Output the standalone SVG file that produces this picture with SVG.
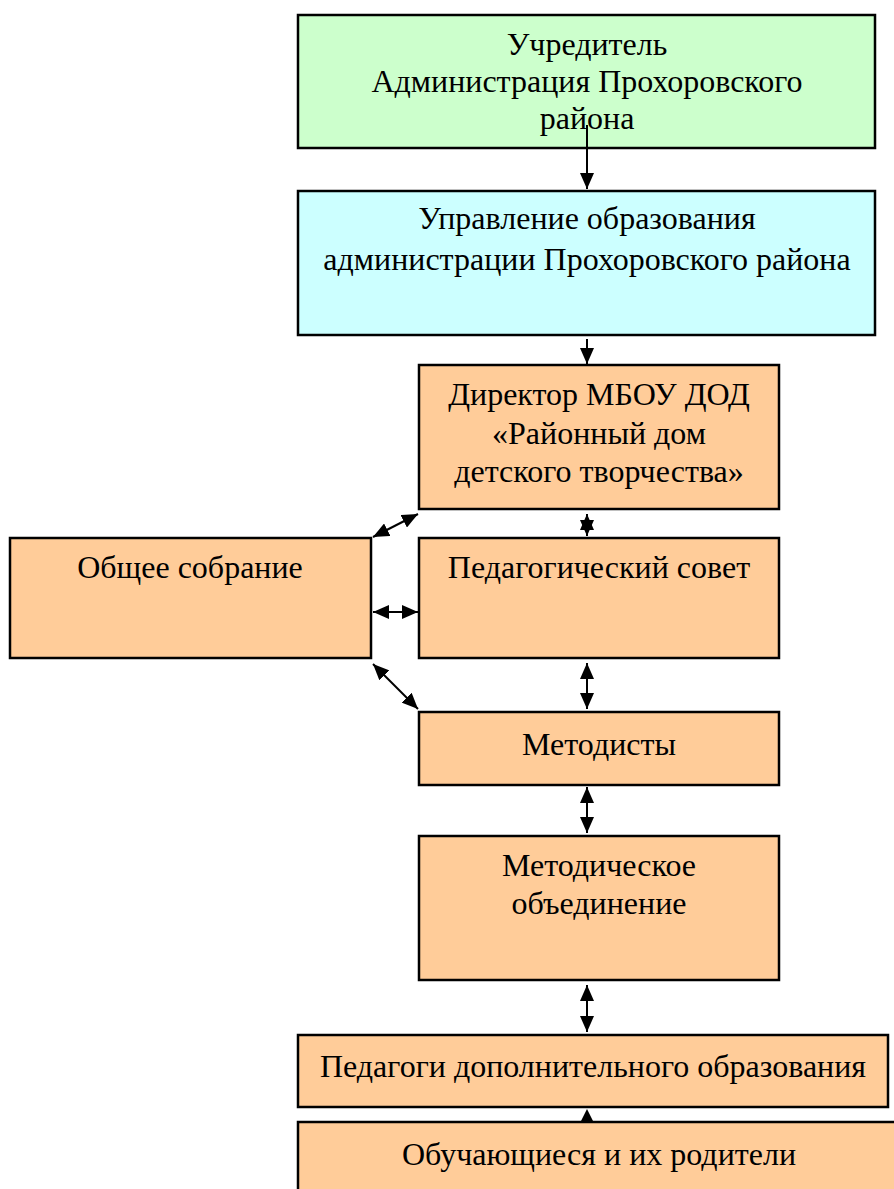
<svg xmlns="http://www.w3.org/2000/svg" width="894" height="1189" viewBox="0 0 894 1189">
<defs>
<style>
.box{stroke:#000;stroke-width:2.5}
.g{fill:#ccffcc}.c{fill:#ccffff}.o{fill:#ffcc99}
text{font-family:"Liberation Serif","Times New Roman",serif;font-size:32px;fill:#000;text-anchor:middle}
.ln{stroke:#000;stroke-width:2;fill:none}
</style>
<marker id="ae" viewBox="0 0 16 14" refX="16" refY="7" markerWidth="16" markerHeight="14" markerUnits="userSpaceOnUse" orient="auto-start-reverse">
<path d="M0,0 L16,7 L0,14 Z" fill="#000"/>
</marker>
</defs>
<g id="n1"><rect class="box g" x="298" y="15" width="577" height="133"/>
<text x="587" y="55">Учредитель</text><text x="587" y="92">Администрация Прохоровского</text><text x="587" y="129">района</text></g>
<g id="n2"><rect class="box c" x="298" y="191" width="577" height="144"/>
<text x="587" y="229">Управление образования</text><text x="587" y="270">администрации Прохоровского района</text></g>
<g id="n3"><rect class="box o" x="419" y="365" width="360" height="144"/>
<text x="599" y="405">Директор МБОУ ДОД</text><text x="599" y="444">«Районный дом</text><text x="599" y="482">детского творчества»</text></g>
<g id="n4"><rect class="box o" x="10" y="538" width="361" height="120"/>
<text x="190" y="578">Общее собрание</text></g>
<g id="n5"><rect class="box o" x="419" y="538" width="360" height="120"/>
<text x="599" y="578">Педагогический совет</text></g>
<g id="n6"><rect class="box o" x="419" y="712" width="360" height="73"/>
<text x="599" y="755">Методисты</text></g>
<g id="n7"><rect class="box o" x="419" y="836" width="360" height="144"/>
<text x="599" y="876">Методическое</text><text x="599" y="914">объединение</text></g>
<g id="n8"><rect class="box o" x="298" y="1035" width="590" height="72"/>
<text x="593" y="1077">Педагоги дополнительного образования</text></g>
<g id="n9"><rect class="box o" x="298" y="1122" width="602" height="80"/>
<text x="599" y="1165">Обучающиеся и их родители</text></g>
<g id="connectors">
<line class="ln" x1="587" y1="125" x2="587" y2="189" marker-end="url(#ae)"/>
<line class="ln" x1="587" y1="339" x2="587" y2="364" marker-end="url(#ae)"/>
<line class="ln" x1="587" y1="514" x2="587" y2="536" marker-start="url(#ae)" marker-end="url(#ae)"/>
<line class="ln" x1="373" y1="537" x2="418" y2="514" marker-start="url(#ae)" marker-end="url(#ae)"/>
<line class="ln" x1="373" y1="612" x2="418" y2="612" marker-start="url(#ae)" marker-end="url(#ae)"/>
<line class="ln" x1="373" y1="664" x2="418" y2="709" marker-start="url(#ae)" marker-end="url(#ae)"/>
<line class="ln" x1="587" y1="663" x2="587" y2="709" marker-start="url(#ae)" marker-end="url(#ae)"/>
<line class="ln" x1="587" y1="787" x2="587" y2="833" marker-start="url(#ae)" marker-end="url(#ae)"/>
<line class="ln" x1="587" y1="985" x2="587" y2="1032" marker-start="url(#ae)" marker-end="url(#ae)"/>
<path d="M581,1121 L587,1109 L593,1121 Z" fill="#000"/>
</g>
</svg>
